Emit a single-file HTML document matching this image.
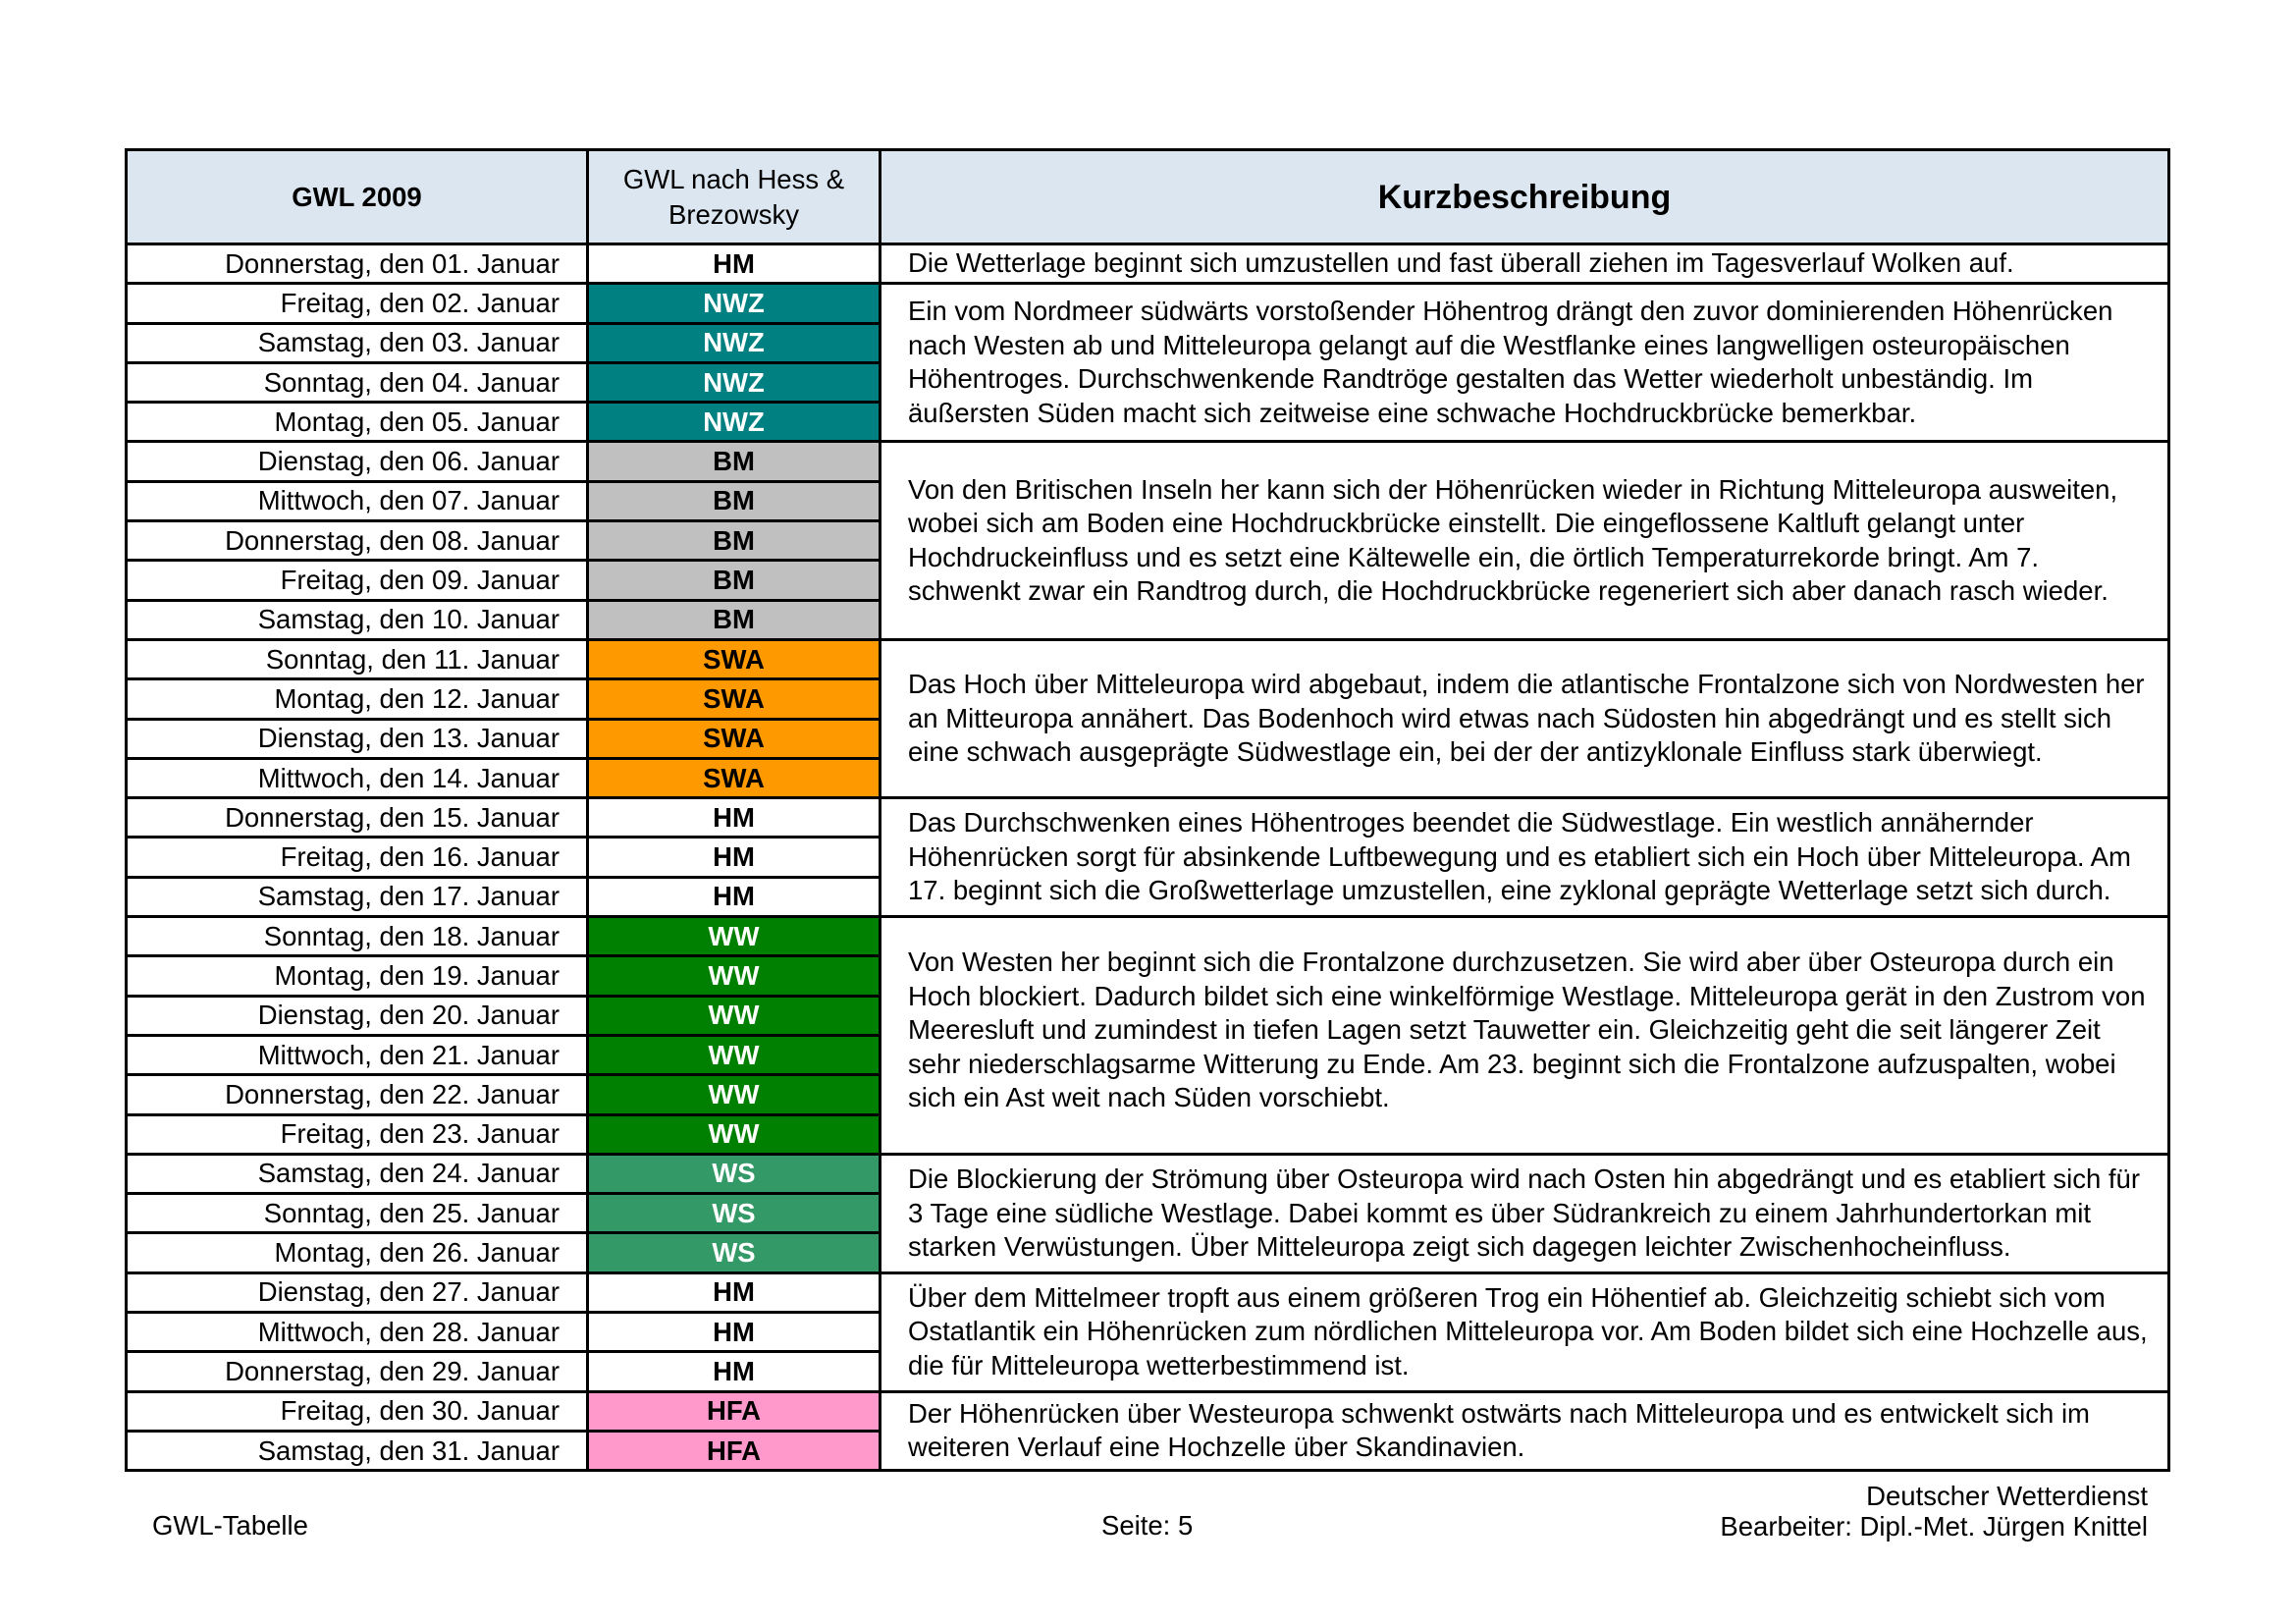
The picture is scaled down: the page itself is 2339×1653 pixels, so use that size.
<!DOCTYPE html>
<html><head><meta charset="utf-8"><style>
body{margin:0;width:2339px;height:1653px;background:#fff;position:relative;font-family:"Liberation Sans",Arial,sans-serif;overflow:hidden}
table{position:absolute;left:127px;top:151px;width:2084px;border-collapse:collapse;table-layout:fixed}
td{border:3px solid #000;padding:0;font-size:27.5px;line-height:30px;white-space:nowrap;overflow:hidden}
tr{height:40.3px}
tr.h{height:96px}
tr.h td{background:#dce6f1;text-align:center}
td.d{text-align:right;padding-right:27px}
td.c{text-align:center;font-weight:bold}
td.t{padding-left:27px;line-height:34.5px;vertical-align:middle}
.NWZ{background:#008080;color:#fff}.BM{background:#c0c0c0}.SWA{background:#ff9900}.WW{background:#008000;color:#fff}.WS{background:#339966;color:#fff}.HFA{background:#ff99cc}
.f{position:absolute;font-size:27.5px;line-height:30px}
</style></head><body>
<table>
<colgroup><col style="width:470px"><col style="width:298px"><col></colgroup>
<tr class="h"><td style="font-weight:bold">GWL 2009</td><td style="line-height:36px">GWL nach Hess &amp;<br>Brezowsky</td><td style="font-weight:bold;font-size:34px">Kurzbeschreibung</td></tr>
<tr><td class="d">Donnerstag, den 01. Januar</td><td class="c">HM</td><td class="t">Die Wetterlage beginnt sich umzustellen und fast überall ziehen im Tagesverlauf Wolken auf.</td></tr>
<tr><td class="d">Freitag, den 02. Januar</td><td class="c NWZ">NWZ</td><td class="t" rowspan="4">Ein vom Nordmeer südwärts vorstoßender Höhentrog drängt den zuvor dominierenden Höhenrücken<br>nach Westen ab und Mitteleuropa gelangt auf die Westflanke eines langwelligen osteuropäischen<br>Höhentroges. Durchschwenkende Randtröge gestalten das Wetter wiederholt unbeständig. Im<br>äußersten Süden macht sich zeitweise eine schwache Hochdruckbrücke bemerkbar.</td></tr>
<tr><td class="d">Samstag, den 03. Januar</td><td class="c NWZ">NWZ</td></tr>
<tr><td class="d">Sonntag, den 04. Januar</td><td class="c NWZ">NWZ</td></tr>
<tr><td class="d">Montag, den 05. Januar</td><td class="c NWZ">NWZ</td></tr>
<tr><td class="d">Dienstag, den 06. Januar</td><td class="c BM">BM</td><td class="t" rowspan="5">Von den Britischen Inseln her kann sich der Höhenrücken wieder in Richtung Mitteleuropa ausweiten,<br>wobei sich am Boden eine Hochdruckbrücke einstellt. Die eingeflossene Kaltluft gelangt unter<br>Hochdruckeinfluss und es setzt eine Kältewelle ein, die örtlich Temperaturrekorde bringt. Am 7.<br>schwenkt zwar ein Randtrog durch, die Hochdruckbrücke regeneriert sich aber danach rasch wieder.</td></tr>
<tr><td class="d">Mittwoch, den 07. Januar</td><td class="c BM">BM</td></tr>
<tr><td class="d">Donnerstag, den 08. Januar</td><td class="c BM">BM</td></tr>
<tr><td class="d">Freitag, den 09. Januar</td><td class="c BM">BM</td></tr>
<tr><td class="d">Samstag, den 10. Januar</td><td class="c BM">BM</td></tr>
<tr><td class="d">Sonntag, den 11. Januar</td><td class="c SWA">SWA</td><td class="t" rowspan="4">Das Hoch über Mitteleuropa wird abgebaut, indem die atlantische Frontalzone sich von Nordwesten her<br>an Mitteuropa annähert. Das Bodenhoch wird etwas nach Südosten hin abgedrängt und es stellt sich<br>eine schwach ausgeprägte Südwestlage ein, bei der der antizyklonale Einfluss stark überwiegt.</td></tr>
<tr><td class="d">Montag, den 12. Januar</td><td class="c SWA">SWA</td></tr>
<tr><td class="d">Dienstag, den 13. Januar</td><td class="c SWA">SWA</td></tr>
<tr><td class="d">Mittwoch, den 14. Januar</td><td class="c SWA">SWA</td></tr>
<tr><td class="d">Donnerstag, den 15. Januar</td><td class="c">HM</td><td class="t" rowspan="3">Das Durchschwenken eines Höhentroges beendet die Südwestlage. Ein westlich annähernder<br>Höhenrücken sorgt für absinkende Luftbewegung und es etabliert sich ein Hoch über Mitteleuropa. Am<br>17. beginnt sich die Großwetterlage umzustellen, eine zyklonal geprägte Wetterlage setzt sich durch.</td></tr>
<tr><td class="d">Freitag, den 16. Januar</td><td class="c">HM</td></tr>
<tr><td class="d">Samstag, den 17. Januar</td><td class="c">HM</td></tr>
<tr><td class="d">Sonntag, den 18. Januar</td><td class="c WW">WW</td><td class="t" rowspan="6" style="vertical-align:top;padding-top:28px">Von Westen her beginnt sich die Frontalzone durchzusetzen. Sie wird aber über Osteuropa durch ein<br>Hoch blockiert. Dadurch bildet sich eine winkelförmige Westlage. Mitteleuropa gerät in den Zustrom von<br>Meeresluft und zumindest in tiefen Lagen setzt Tauwetter ein. Gleichzeitig geht die seit längerer Zeit<br>sehr niederschlagsarme Witterung zu Ende. Am 23. beginnt sich die Frontalzone aufzuspalten, wobei<br>sich ein Ast weit nach Süden vorschiebt.</td></tr>
<tr><td class="d">Montag, den 19. Januar</td><td class="c WW">WW</td></tr>
<tr><td class="d">Dienstag, den 20. Januar</td><td class="c WW">WW</td></tr>
<tr><td class="d">Mittwoch, den 21. Januar</td><td class="c WW">WW</td></tr>
<tr><td class="d">Donnerstag, den 22. Januar</td><td class="c WW">WW</td></tr>
<tr><td class="d">Freitag, den 23. Januar</td><td class="c WW">WW</td></tr>
<tr><td class="d">Samstag, den 24. Januar</td><td class="c WS">WS</td><td class="t" rowspan="3">Die Blockierung der Strömung über Osteuropa wird nach Osten hin abgedrängt und es etabliert sich für<br>3 Tage eine südliche Westlage. Dabei kommt es über Südrankreich zu einem Jahrhundertorkan mit<br>starken Verwüstungen. Über Mitteleuropa zeigt sich dagegen leichter Zwischenhocheinfluss.</td></tr>
<tr><td class="d">Sonntag, den 25. Januar</td><td class="c WS">WS</td></tr>
<tr><td class="d">Montag, den 26. Januar</td><td class="c WS">WS</td></tr>
<tr><td class="d">Dienstag, den 27. Januar</td><td class="c">HM</td><td class="t" rowspan="3">Über dem Mittelmeer tropft aus einem größeren Trog ein Höhentief ab. Gleichzeitig schiebt sich vom<br>Ostatlantik ein Höhenrücken zum nördlichen Mitteleuropa vor. Am Boden bildet sich eine Hochzelle aus,<br>die für Mitteleuropa wetterbestimmend ist.</td></tr>
<tr><td class="d">Mittwoch, den 28. Januar</td><td class="c">HM</td></tr>
<tr><td class="d">Donnerstag, den 29. Januar</td><td class="c">HM</td></tr>
<tr><td class="d">Freitag, den 30. Januar</td><td class="c HFA">HFA</td><td class="t" rowspan="2">Der Höhenrücken über Westeuropa schwenkt ostwärts nach Mitteleuropa und es entwickelt sich im<br>weiteren Verlauf eine Hochzelle über Skandinavien.</td></tr>
<tr><td class="d">Samstag, den 31. Januar</td><td class="c HFA">HFA</td></tr>
</table>
<div class="f" style="left:155px;top:1539px">GWL-Tabelle</div>
<div class="f" style="left:1122px;top:1539px">Seite: 5</div>
<div class="f" style="right:151px;top:1508px;text-align:right;line-height:31px">Deutscher Wetterdienst<br>Bearbeiter: Dipl.-Met. Jürgen Knittel</div>
</body></html>
